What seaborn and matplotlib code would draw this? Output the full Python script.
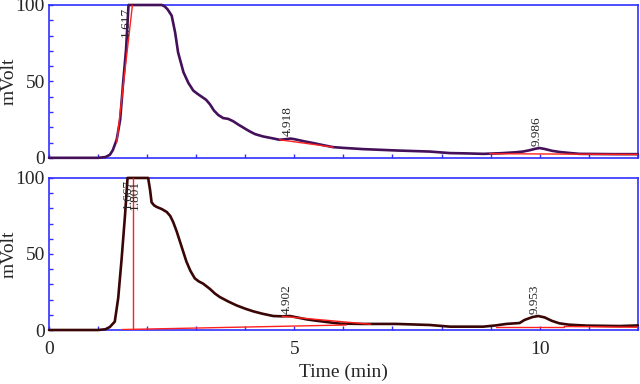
import numpy as np
import pandas as pd
import matplotlib
matplotlib.use("Agg")
import matplotlib.pyplot as plt
from matplotlib.ticker import MultipleLocator
import seaborn as sns

# ====================
#  DATA
# ====================

time_top = [0, 1.0, 1.15, 1.24, 1.30, 1.38, 1.45, 1.51, 1.57, 1.62, 2.30, 2.36, 2.42,
            2.50, 2.57, 2.63, 2.74, 2.84, 2.94, 3.02, 3.11, 3.20, 3.28, 3.36, 3.45,
            3.55, 3.65, 3.75, 3.86, 4.00, 4.09, 4.20, 4.36, 4.55, 4.70, 4.85, 4.92,
            5.00, 5.20, 5.38, 5.60, 5.79, 6.00, 6.40, 7.08, 7.76, 8.17, 8.50, 8.85,
            9.20, 9.50, 9.66, 9.80, 9.92, 10.0, 10.1, 10.25, 10.41, 10.6, 10.81,
            11.49, 12.0]
mvolt_top = [0, 0, 0.5, 2, 5, 12, 25, 49, 71, 100, 100, 99, 97,
             93, 82, 69, 56, 49, 44, 42, 40, 38, 35, 31, 28,
             26, 25.5, 24, 21.7, 19, 17.3, 15.5, 14, 12.8, 11.8, 12.3, 12.6,
             12.2, 10.8, 9.7, 8.2, 7, 6.5, 5.7, 4.8, 4.1, 3.1, 2.9, 2.6,
             3.0, 3.6, 4.1, 5.0, 6.0, 6.4, 5.8, 4.6, 3.8, 3.2, 2.6,
             2.4, 2.4]

time_bot = [0, 1.0, 1.15, 1.24, 1.34, 1.41, 1.48, 1.55, 1.60, 2.02, 2.06, 2.09, 2.14,
            2.19, 2.30, 2.40, 2.47, 2.53, 2.60, 2.67, 2.74, 2.80, 2.88, 2.97, 3.05,
            3.14, 3.20, 3.28, 3.38, 3.48, 3.65, 3.82, 4.00, 4.16, 4.35, 4.57, 4.75,
            4.91, 5.05, 5.25, 5.45, 5.65, 5.93, 6.40, 7.08, 7.76, 8.17, 8.85, 9.10,
            9.32, 9.59, 9.69, 9.85, 9.97, 10.1, 10.25, 10.4, 10.6, 10.95, 11.63, 12.0]
mvolt_bot = [0, 0, 0.5, 2, 5.5, 21, 47, 76, 100, 100, 92, 84, 82,
             81, 79.5, 77.6, 75, 71, 65, 58, 51, 45, 39, 34, 32,
             30.5, 29, 27, 24, 21.7, 18.8, 16.2, 14, 12.3, 10.7, 9.2, 9,
             9.2, 8.3, 7, 6.1, 5.3, 4.2, 4, 4, 3.3, 2.2, 2.2, 3,
             4, 4.6, 6.6, 8.5, 9.2, 8.3, 6, 4.4, 3.5, 2.9, 2.6, 3]

# integration baselines: segment id, time, mVolt
base_top_seg = [0, 0, 1, 1, 2, 2]
base_top_t = [1.38, 1.70, 4.70, 5.79, 8.98, 12.0]
base_top_v = [10, 100, 11.8, 7.0, 2.7, 2.2]

base_bot_seg = [0, 0, 1, 1, 2, 2, 3, 3, 4, 4]
base_bot_t = [1.48, 6.06, 4.75, 6.55, 9.10, 10.5, 1.71, 1.71, 10.5, 12.0]
base_bot_v = [0.3, 3.3, 9.0, 3.8, 2.3, 2.3, 0, 100, 2.3, 1.8]

# peak labels
peaks_top = ["1.617", "4.918", "9.986"]
peak_t_top = [1.617, 4.918, 9.986]
peaks_bot = ["1.667", "1.801", "4.902", "9.953"]
peak_t_bot = [1.667, 1.801, 4.902, 9.953]

# ====================
#  STYLE
# ====================

sns.set_theme(style="white")
plt.rcParams["font.family"] = ["Liberation Serif", "DejaVu Serif"]

BLUE = "#3030ff"
RED = "#ff2020"


def style_axis(ax, show_x):
    ax.set_xlim(0, 12.0)
    ax.set_ylim(0, 100)
    for sp in ax.spines.values():
        sp.set_color(BLUE)
        sp.set_linewidth(1.2)
    ax.xaxis.set_major_locator(MultipleLocator(5))
    ax.xaxis.set_minor_locator(MultipleLocator(1))
    ax.yaxis.set_major_locator(MultipleLocator(50))
    ax.yaxis.set_minor_locator(MultipleLocator(10))
    ax.tick_params(which="both", direction="in", color=BLUE, length=3, width=1,
                   labelsize=14, pad=3, left=True, bottom=True)
    ax.tick_params(axis="x", labelbottom=show_x, pad=8)
    ax.set_ylabel("mVolt", fontsize=14)
    ax.yaxis.set_label_coords(-0.053, 0.5)
    ax.grid(False)


def draw_panel(ax, t, v, color, bt, bv, bseg, labels, label_t):
    curve = pd.DataFrame({"time": t, "mvolt": v})
    sns.lineplot(data=curve, x="time", y="mvolt", ax=ax, color=color,
                 linewidth=1.9, zorder=4, clip_on=False)
    base = pd.DataFrame({"time": bt, "mvolt": bv, "seg": bseg})
    sns.lineplot(data=base, x="time", y="mvolt", units="seg", estimator=None,
                 ax=ax, color=RED, linewidth=1.0, zorder=5, sort=False)
    for lab, pt in zip(labels, label_t):
        yv = np.interp(pt, t, v)
        if yv >= 80:
            ax.text(pt + 0.07, 99, lab, rotation=90, ha="right", va="top",
                    fontsize=9.5, zorder=6)
        else:
            ax.text(pt + 0.07, yv + 1.5, lab, rotation=90, ha="right",
                    va="bottom", fontsize=9.5, zorder=6)


fig = plt.figure(figsize=(6.4, 3.84), dpi=100)
ax1 = fig.add_axes([0.0766, 0.589, 0.920, 0.398])
ax2 = fig.add_axes([0.0766, 0.1406, 0.920, 0.396])

draw_panel(ax1, time_top, mvolt_top, "#44105a", base_top_t, base_top_v,
           base_top_seg, peaks_top, peak_t_top)
draw_panel(ax2, time_bot, mvolt_bot, "#3a0505", base_bot_t, base_bot_v,
           base_bot_seg, peaks_bot, peak_t_bot)

style_axis(ax1, False)
style_axis(ax2, True)
ax1.set_xlabel("")
ax2.set_xlabel("Time (min)", fontsize=14, labelpad=4)

fig.savefig("out.png", dpi=100)
